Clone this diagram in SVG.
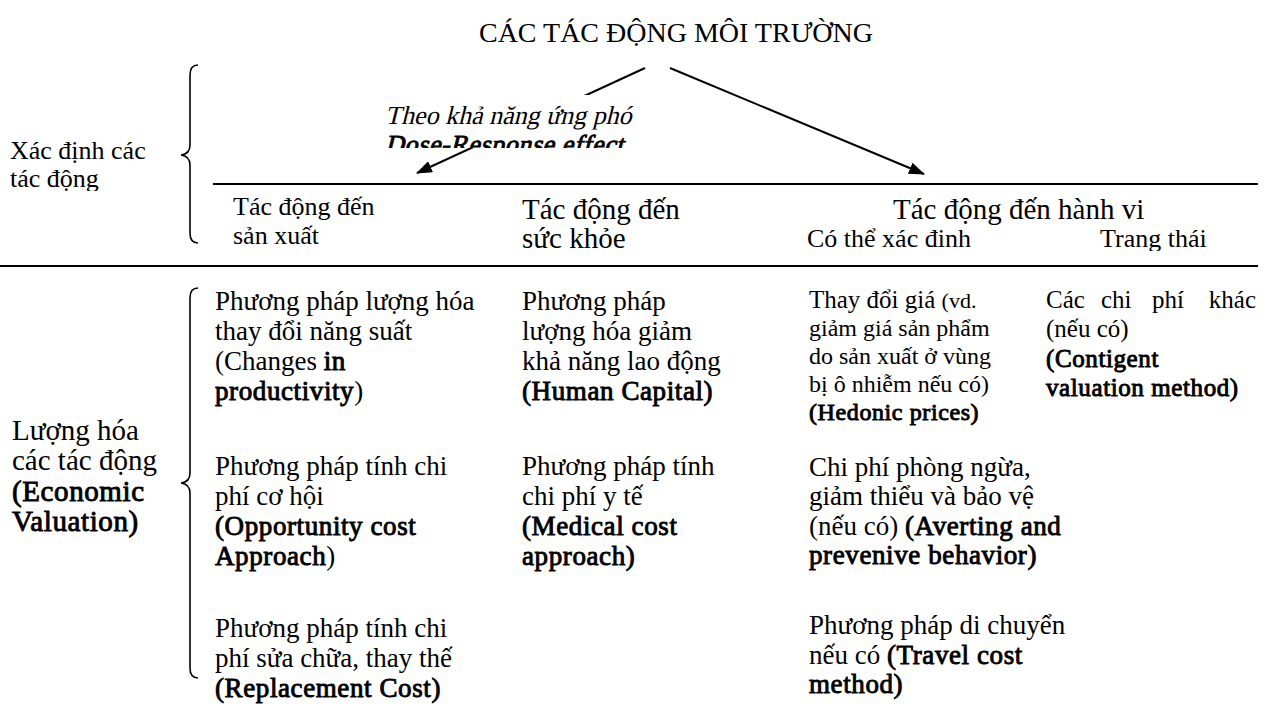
<svg xmlns="http://www.w3.org/2000/svg" width="1270" height="720" viewBox="0 0 1270 720">
<style>
text{font-family:"Liberation Serif","Times New Roman",serif;fill:#000}
.f27{font-size:27px}.f26{font-size:26px}.f25{font-size:25px}.f24{font-size:24px}.f29{font-size:29px}.f28{font-size:28px}
.b{font-weight:normal;stroke:#000;stroke-width:0.9px;letter-spacing:0.6px}
.ln{stroke:#000;stroke-width:2;fill:none}
.br{stroke:#000;stroke-width:1.6;fill:none}
</style>
<defs>
<marker id="ah" viewBox="0 0 16 12" refX="15" refY="6" markerWidth="16" markerHeight="12" markerUnits="userSpaceOnUse" orient="auto"><path d="M0,0 L16,6 L0,12 z" fill="#000"/></marker>
<clipPath id="cLeft"><rect x="0" y="100" width="180" height="91"/></clipPath>
<clipPath id="cBox"><rect x="370" y="95" width="280" height="53"/></clipPath>
<clipPath id="cHead"><rect x="200" y="185" width="1070" height="66"/></clipPath>
</defs>
<rect width="1270" height="720" fill="#fff"/>

<g id="title"><text class="f28" x="676" y="42" text-anchor="middle">CÁC TÁC ĐỘNG MÔI TRƯỜNG</text></g>

<g id="connectors">
<line class="ln" x1="645" y1="68" x2="417" y2="173" marker-end="url(#ah)"/>
<line class="ln" x1="670" y1="68" x2="924" y2="174" marker-end="url(#ah)"/>
</g>

<g id="dose-response">
<rect x="378" y="95" width="262" height="53" fill="#fff"/>
<g clip-path="url(#cBox)">
<text class="f26" transform="translate(385,124) skewX(-14)" x="0" y="0">Theo khả năng ứng phó</text>
<text class="f26 b" transform="translate(385,153) skewX(-14)" x="0" y="0">Dose-Response effect</text>
</g>
</g>

<g id="rules">
<line class="ln" x1="213" y1="184" x2="1258" y2="184"/>
<line class="ln" x1="0" y1="266" x2="1258" y2="266"/>
</g>

<g id="identify">
<g clip-path="url(#cLeft)">
<text class="f26" x="10" y="159">Xác định các</text>
<text class="f26" x="10" y="187">tác động</text>
</g>
<path class="br" d="M198,65 Q190,65 190,75 L190,145 Q190,154 181,155 Q190,156 190,165 L190,233 Q190,243 198,243"/>
</g>

<g id="headers" clip-path="url(#cHead)">
<text class="f26" x="233" y="215">Tác động đến</text>
<text class="f26" x="233" y="244">sản xuất</text>
<text class="f29" x="522" y="219">Tác động đến</text>
<text class="f29" x="522" y="248">sức khỏe</text>
<text class="f29" x="893" y="219">Tác động đến hành vi</text>
<text class="f26" x="807" y="247">Có thể xác đinh</text>
<text class="f26" x="1100" y="247">Trang thái</text>
</g>

<g id="valuation">
<text class="f29" x="12" y="440">Lượng hóa</text>
<text class="f29" x="12" y="470">các tác động</text>
<text class="f29 b" x="12" y="501">(Economic</text>
<text class="f29 b" x="12" y="531">Valuation)</text>
<path class="br" d="M198,288 Q190,288 190,298 L190,473 Q190,482 181,483 Q190,484 190,493 L190,668 Q190,678 198,678"/>
</g>

<g id="productivity">
<text class="f27" x="215" y="310">Phương pháp lượng hóa</text>
<text class="f27" x="215" y="340">thay đổi năng suất</text>
<text class="f27" x="215" y="370">(Changes <tspan class="b">in</tspan></text>
<text class="f27" x="215" y="400"><tspan class="b">productivity</tspan>)</text>
</g>

<g id="opportunity">
<text class="f27" x="215" y="475">Phương pháp tính chi</text>
<text class="f27" x="215" y="505">phí cơ hội</text>
<text class="f27 b" x="215" y="535">(Opportunity cost</text>
<text class="f27" x="215" y="565"><tspan class="b">Approach</tspan>)</text>
</g>

<g id="replacement">
<text class="f27" x="215" y="637">Phương pháp tính chi</text>
<text class="f27" x="215" y="667">phí sửa chữa, thay thế</text>
<text class="f27 b" x="215" y="697">(Replacement Cost)</text>
</g>

<g id="human-capital">
<text class="f27" x="522" y="310">Phương pháp</text>
<text class="f27" x="522" y="340">lượng hóa giảm</text>
<text class="f27" x="522" y="370">khả năng lao động</text>
<text class="f27 b" x="522" y="400">(Human Capital)</text>
</g>

<g id="medical">
<text class="f27" x="522" y="475">Phương pháp tính</text>
<text class="f27" x="522" y="505">chi phí y tế</text>
<text class="f27 b" x="522" y="535">(Medical cost</text>
<text class="f27 b" x="522" y="565">approach)</text>
</g>

<g id="hedonic">
<text class="f25" x="809" y="308">Thay đổi giá <tspan style="font-size:22px">(vd.</tspan></text>
<text class="f24" x="809" y="336">giảm giá sản phẩm</text>
<text class="f24" x="809" y="364">do sản xuất ở vùng</text>
<text class="f24" x="809" y="392">bị ô nhiễm nếu có)</text>
<text class="f24 b" x="809" y="420">(Hedonic prices)</text>
</g>

<g id="contingent">
<text class="f25" x="1046" y="308">Các</text>
<text class="f25" x="1101" y="308">chi</text>
<text class="f25" x="1152" y="308">phí</text>
<text class="f25" x="1256" y="308" text-anchor="end">khác</text>
<text class="f25" x="1046" y="337">(nếu có)</text>
<text class="f25 b" x="1046" y="367">(Contigent</text>
<text class="f25 b" x="1046" y="396">valuation method)</text>
</g>

<g id="averting">
<text class="f27" x="809" y="476">Chi phí phòng ngừa,</text>
<text class="f27" x="809" y="505">giảm thiểu và bảo vệ</text>
<text class="f27" x="809" y="535">(nếu có) <tspan class="b">(Averting and</tspan></text>
<text class="f27 b" x="809" y="564">prevenive behavior)</text>
</g>

<g id="travel">
<text class="f27" x="809" y="634">Phương pháp di chuyển</text>
<text class="f27" x="809" y="664">nếu có <tspan class="b">(Travel cost</tspan></text>
<text class="f27 b" x="809" y="693">method)</text>
</g>
</svg>
